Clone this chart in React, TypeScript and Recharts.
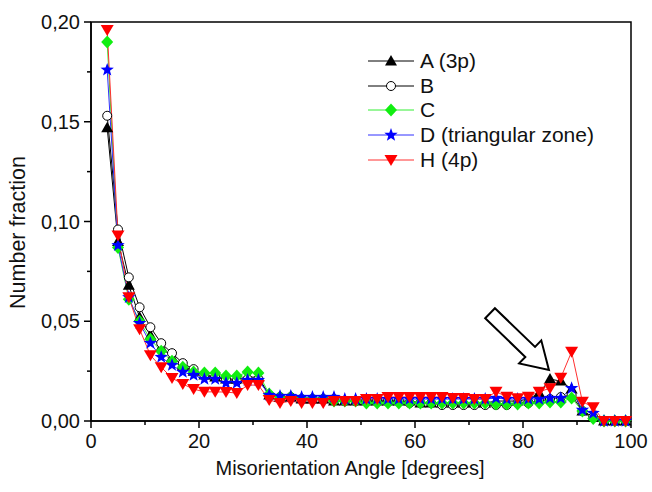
import React from 'react';
import { LineChart, Line, XAxis, YAxis, Legend, ReferenceArea, ReferenceLine, Label } from 'recharts';

// misorientation angle bins (degrees)
const angles = [
  3, 5, 7, 9, 11, 13, 15, 17, 19, 21, 23, 25, 27, 29, 31, 33, 35, 37, 39, 41, 43, 45, 47, 49, 51,
  53, 55, 57, 59, 61, 63, 65, 67, 69, 71, 73, 75, 77, 79, 81, 83, 85, 87, 89, 91, 93, 95, 97, 99,
];

const seriesA = [
  0.147, 0.09, 0.068, 0.052, 0.043, 0.037, 0.032, 0.028, 0.025, 0.023, 0.022, 0.021, 0.021, 0.022, 0.022,
  0.013, 0.012, 0.012, 0.011, 0.011, 0.011, 0.01, 0.01, 0.01, 0.01, 0.01, 0.01, 0.01, 0.01, 0.009,
  0.009, 0.009, 0.009, 0.009, 0.009, 0.009, 0.01, 0.01, 0.01, 0.011, 0.014, 0.021, 0.02, 0.016, 0.005,
  0.002, 0, 0, 0,
];
const seriesB = [
  0.153, 0.096, 0.072, 0.057, 0.047, 0.039, 0.034, 0.029, 0.026, 0.023, 0.022, 0.021, 0.02, 0.021, 0.021,
  0.013, 0.012, 0.012, 0.011, 0.011, 0.011, 0.011, 0.01, 0.01, 0.01, 0.01, 0.01, 0.01, 0.009, 0.009,
  0.009, 0.008, 0.008, 0.008, 0.008, 0.008, 0.008, 0.008, 0.009, 0.009, 0.01, 0.011, 0.012, 0.013, 0.005,
  0.002, 0, 0, 0,
];
const seriesC = [
  0.19, 0.087, 0.061, 0.05, 0.041, 0.035, 0.03, 0.027, 0.0245, 0.024, 0.024, 0.0225, 0.0225, 0.0245, 0.024,
  0.0135, 0.012, 0.012, 0.011, 0.011, 0.011, 0.01, 0.01, 0.01, 0.009, 0.009, 0.009, 0.009, 0.009, 0.009,
  0.009, 0.009, 0.009, 0.009, 0.009, 0.009, 0.0085, 0.0085, 0.0085, 0.009, 0.009, 0.0095, 0.0095, 0.0115, 0.005,
  0.0013, 0, 0, 0,
];
const seriesD = [
  0.176, 0.088, 0.062, 0.049, 0.039, 0.032, 0.028, 0.0245, 0.023, 0.021, 0.021, 0.019, 0.019, 0.0205, 0.0205,
  0.013, 0.0125, 0.0125, 0.012, 0.012, 0.012, 0.012, 0.011, 0.011, 0.011, 0.011, 0.011, 0.011, 0.011, 0.011,
  0.011, 0.011, 0.011, 0.011, 0.011, 0.011, 0.0115, 0.011, 0.011, 0.011, 0.011, 0.0115, 0.0115, 0.0164, 0.0055,
  0.0039, 0, 0, 0,
];
const seriesH = [
  0.196, 0.093, 0.062, 0.046, 0.033, 0.027, 0.0215, 0.0185, 0.016, 0.0146, 0.0146, 0.0145, 0.014, 0.018, 0.018,
  0.0105, 0.009, 0.01, 0.009, 0.009, 0.009, 0.01, 0.01, 0.01, 0.011, 0.011, 0.012, 0.012, 0.012, 0.012,
  0.012, 0.012, 0.0115, 0.0115, 0.011, 0.011, 0.0147, 0.0122, 0.0114, 0.0122, 0.0147, 0.0164, 0.0217, 0.0347, 0.0097,
  0.0069, 0, 0, 0,
];

const xTicks = [0, 10, 20, 30, 40, 50, 60, 70, 80, 90, 100];
const yTicks = [0, 0.025, 0.05, 0.075, 0.1, 0.125, 0.15, 0.175, 0.2];

const data = angles.map((a, i) => ({
  angle: a,
  A: seriesA[i],
  B: seriesB[i],
  C: seriesC[i],
  D: seriesD[i],
  H: seriesH[i],
}));

type MarkerKind = 'up' | 'circle' | 'diamond' | 'star' | 'down';

const Marker = ({ kind, cx, cy, color }: { kind: MarkerKind; cx: number; cy: number; color: string }) => {
  if (cx == null || cy == null) return null;
  switch (kind) {
    case 'up':
      return <polygon points={`${cx},${cy - 6} ${cx + 6},${cy + 4.5} ${cx - 6},${cy + 4.5}`} fill={color} />;
    case 'circle':
      return <circle cx={cx} cy={cy} r={4.5} fill="#fff" stroke="#000" strokeWidth={1} />;
    case 'diamond':
      return <polygon points={`${cx},${cy - 6.5} ${cx + 6},${cy} ${cx},${cy + 6.5} ${cx - 6},${cy}`} fill={color} />;
    case 'star': {
      const pts: string[] = [];
      for (let k = 0; k < 10; k++) {
        const r = k % 2 === 0 ? 7 : 2.9;
        const ang = -Math.PI / 2 + (k * Math.PI) / 5;
        pts.push(`${cx + r * Math.cos(ang)},${cy + r * Math.sin(ang)}`);
      }
      return <polygon points={pts.join(' ')} fill={color} />;
    }
    case 'down':
      return <polygon points={`${cx - 6.5},${cy - 5} ${cx + 6.5},${cy - 5} ${cx},${cy + 6}`} fill={color} />;
  }
  return null;
};

const series = [
  { key: 'A', name: 'A (3p)', line: '#000', color: '#000', kind: 'up' as MarkerKind },
  { key: 'B', name: 'B', line: '#000', color: '#000', kind: 'circle' as MarkerKind },
  { key: 'C', name: 'C', line: '#33ee33', color: '#11ee11', kind: 'diamond' as MarkerKind },
  { key: 'D', name: 'D (triangular zone)', line: '#3030ff', color: '#0000ff', kind: 'star' as MarkerKind },
  { key: 'H', name: 'H (4p)', line: '#ff3030', color: '#ff0000', kind: 'down' as MarkerKind },
];

const font = '"Liberation Sans", Arial, sans-serif';

const XTick = (props: any) => {
  const { x, y, payload } = props;
  const major = payload.value % 20 === 0;
  return (
    <g>
      <line x1={x} y1={y} x2={x} y2={y + (major ? 7 : 4)} stroke="#000" strokeWidth={1.5} />
      {major && (
        <text x={x} y={y + 27} textAnchor="middle" fontSize={20} fontFamily={font} fill="#111">
          {payload.value}
        </text>
      )}
    </g>
  );
};

const YTick = (props: any) => {
  const { x, y, payload } = props;
  const major = Math.round(payload.value * 1000) % 50 === 0;
  return (
    <g>
      <line x1={x} y1={y} x2={x - (major ? 7 : 4)} y2={y} stroke="#000" strokeWidth={1.5} />
      {major && (
        <text x={x - 11} y={y + 7} textAnchor="end" fontSize={20} fontFamily={font} fill="#111">
          {payload.value.toFixed(2).replace('.', ',')}
        </text>
      )}
    </g>
  );
};

const XTitle = (props: any) => {
  const { viewBox } = props;
  return (
    <text x={viewBox.x + viewBox.width / 2 - 11} y={viewBox.y + 54} textAnchor="middle" fontSize={20} fontFamily={font} fill="#111">
      Misorientation Angle [degrees]
    </text>
  );
};

const YTitle = (props: any) => {
  const { viewBox } = props;
  const cx = viewBox.x + 25;
  const cy = viewBox.y + viewBox.height / 2 + 11;
  return (
    <text x={cx} y={cy} transform={`rotate(-90, ${cx}, ${cy})`} textAnchor="middle" fontSize={21.5} fontFamily={font} fill="#111">
      Number fraction
    </text>
  );
};

const renderLegend = () => (
  <div style={{ fontFamily: font, fontSize: 21, color: '#111' }}>
    {series.map((s) => (
      <div key={s.key} style={{ display: 'flex', alignItems: 'center', height: 24.6 }}>
        <svg width={50} height={16}>
          <line x1={2} y1={8} x2={48} y2={8} stroke={s.line} strokeWidth={1} />
          <Marker kind={s.kind} cx={25} cy={8} color={s.color} />
        </svg>
        <span style={{ marginLeft: 4 }}>{s.name}</span>
      </div>
    ))}
  </div>
);

const HollowArrow = (props: any) => {
  const { x1, y1, x2, y2 } = props;
  if ([x1, y1, x2, y2].some((v) => v == null || isNaN(v))) return null;
  const dx = x2 - x1;
  const dy = y2 - y1;
  const len = Math.hypot(dx, dy);
  const ux = dx / len;
  const uy = dy / len;
  const nx = -uy;
  const ny = ux;
  const shaft = 7;
  const head = 16;
  const headLen = 26;
  const bx = x2 - ux * headLen;
  const by = y2 - uy * headLen;
  const p = (px: number, py: number) => `${px},${py}`;
  const pts = [
    p(x1 + nx * shaft, y1 + ny * shaft),
    p(bx + nx * shaft, by + ny * shaft),
    p(bx + nx * head, by + ny * head),
    p(x2, y2),
    p(bx - nx * head, by - ny * head),
    p(bx - nx * shaft, by - ny * shaft),
    p(x1 - nx * shaft, y1 - ny * shaft),
  ];
  return <polygon points={pts.join(' ')} fill="#fff" stroke="#000" strokeWidth={2} strokeLinejoin="miter" />;
};

export default function App() {
  return (
    <div style={{ position: 'absolute', left: 0, top: 0, width: 652, height: 492, background: '#fff' }}>
      <LineChart width={652} height={492} data={data} margin={{ top: 22, right: 21, bottom: 0, left: 0 }}>
        <XAxis
          dataKey="angle"
          type="number"
          domain={[0, 100]}
          ticks={xTicks}
          interval={0}
          height={71}
          tickSize={0}
          tickMargin={0}
          tick={<XTick />}
          tickLine={false}
          axisLine={{ stroke: '#000', strokeWidth: 1.5 }}
        >
          <Label content={<XTitle />} />
        </XAxis>
        <YAxis
          type="number"
          domain={[0, 0.2]}
          ticks={yTicks}
          interval={0}
          width={91}
          tickSize={0}
          tickMargin={0}
          tick={<YTick />}
          tickLine={false}
          axisLine={{ stroke: '#000', strokeWidth: 1.5 }}
        >
          <Label content={<YTitle />} />
        </YAxis>
        <ReferenceArea x1={0} x2={100} y1={0} y2={0.2} fill="none" stroke="#000" strokeWidth={1.5} fillOpacity={0} ifOverflow="visible" />
        {series.map((s) => (
          <Line
            key={s.key}
            dataKey={s.key}
            name={s.name}
            type="linear"
            stroke={s.line}
            strokeWidth={1}
            isAnimationActive={false}
            dot={(p: any) => <Marker key={`${s.key}-${p.index}`} kind={s.kind} cx={p.cx} cy={p.cy} color={s.color} />}
            activeDot={false}
          />
        ))}
        <ReferenceLine
          segment={[
            { x: 73.9, y: 0.054 },
            { x: 84.8, y: 0.0256 },
          ]}
          shape={<HollowArrow />}
          ifOverflow="visible"
        />
        <Legend
          content={renderLegend}
          layout="vertical"
          verticalAlign="middle"
          align="center"
          wrapperStyle={{ left: 366, top: 49, width: 280 }}
        />
      </LineChart>
    </div>
  );
}
